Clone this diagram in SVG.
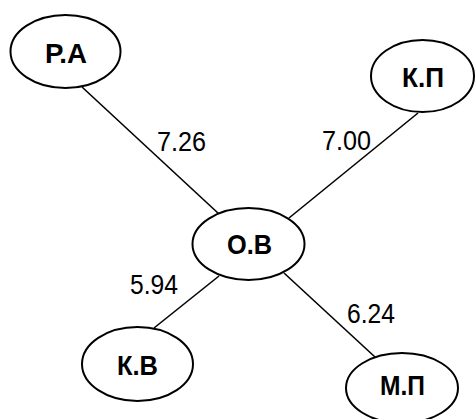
<svg xmlns="http://www.w3.org/2000/svg" width="476" height="419" viewBox="0 0 476 419">
<style>
.n ellipse{fill:#fff;stroke:#000;stroke-width:2}
.n text{font-family:"Liberation Sans",Arial,sans-serif;font-weight:bold;font-size:28px;fill:#000}
.e line{stroke:#000;stroke-width:1.6}
.w{font-family:"Liberation Sans",Arial,sans-serif;font-size:28px;fill:#000}
</style>
<rect width="476" height="419" fill="#fff"/>
<g id="connectors" class="e">
<line x1="82" y1="87" x2="219" y2="214"/>
<line x1="418" y1="113" x2="289" y2="218"/>
<line x1="219" y1="276" x2="154" y2="328"/>
<line x1="284" y1="273" x2="375" y2="357"/>
</g>
<g id="weights">
<text class="w" x="157" y="151" textLength="49" lengthAdjust="spacingAndGlyphs">7.26</text>
<text class="w" x="322" y="150" textLength="49" lengthAdjust="spacingAndGlyphs">7.00</text>
<text class="w" x="130" y="294" textLength="48" lengthAdjust="spacingAndGlyphs">5.94</text>
<text class="w" x="347" y="323" textLength="48" lengthAdjust="spacingAndGlyphs">6.24</text>
</g>
<g id="node-RA" class="n">
<ellipse cx="65.5" cy="51.5" rx="55" ry="36.5"/>
<text x="45" y="63" textLength="42" lengthAdjust="spacingAndGlyphs">Р.А</text>
</g>
<g id="node-KP" class="n">
<ellipse cx="422.5" cy="76" rx="51.5" ry="36"/>
<text x="402" y="86.5" textLength="42" lengthAdjust="spacingAndGlyphs">К.П</text>
</g>
<g id="node-OV" class="n">
<ellipse cx="248.5" cy="244" rx="56" ry="36"/>
<text x="227" y="254" textLength="45" lengthAdjust="spacingAndGlyphs">О.В</text>
</g>
<g id="node-KV" class="n">
<ellipse cx="137.5" cy="364" rx="55.5" ry="37"/>
<text x="117" y="375" textLength="41" lengthAdjust="spacingAndGlyphs">К.В</text>
</g>
<g id="node-MP" class="n">
<ellipse cx="402" cy="388" rx="56" ry="35"/>
<text x="380" y="395" textLength="45" lengthAdjust="spacingAndGlyphs">М.П</text>
</g>
</svg>
